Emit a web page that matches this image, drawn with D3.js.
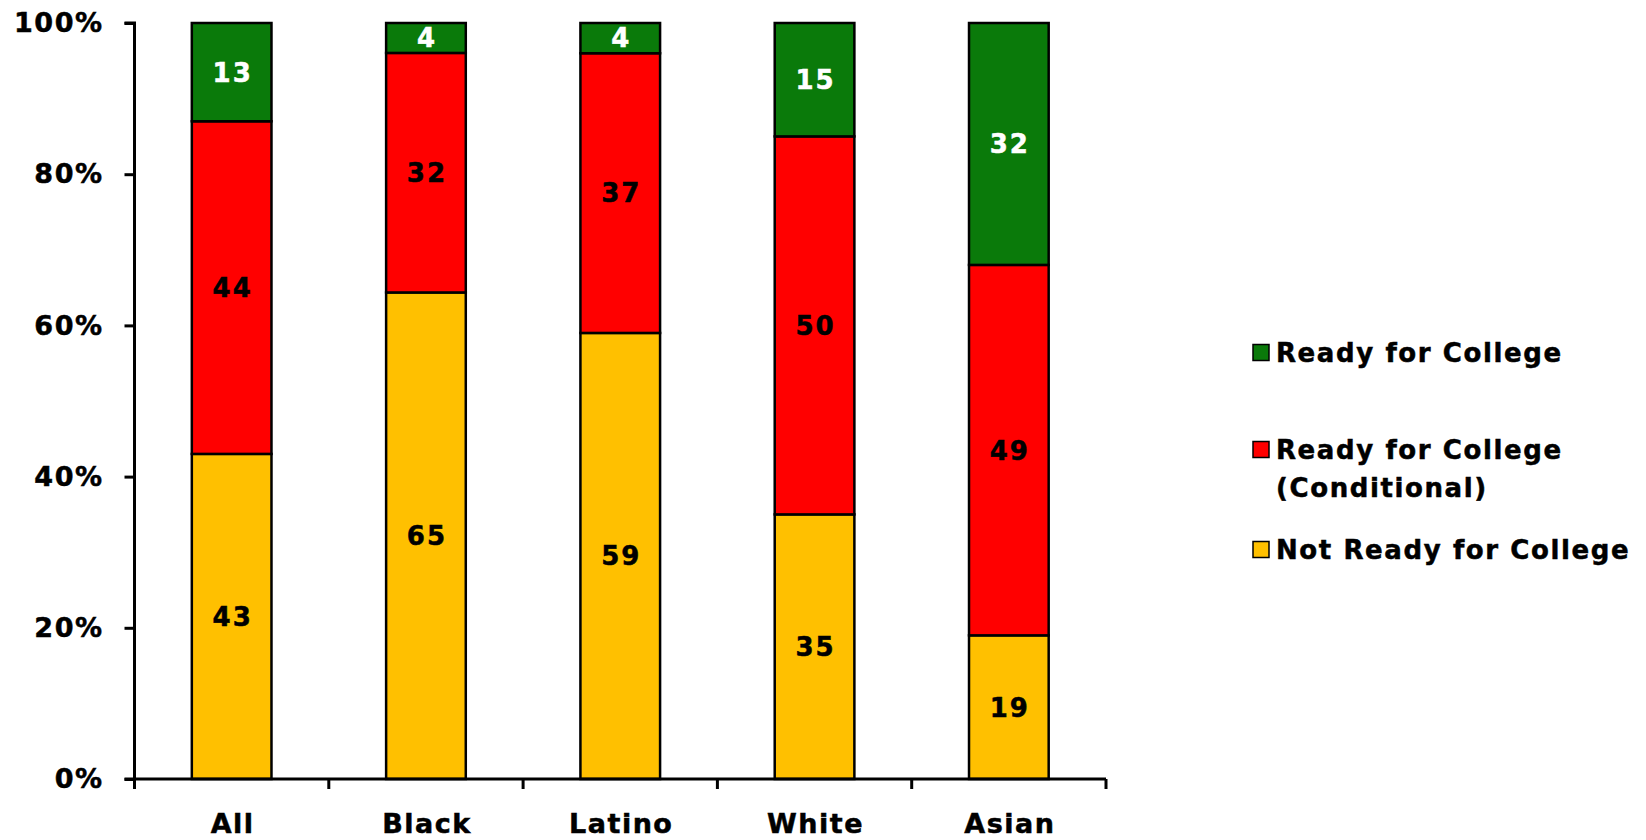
<!DOCTYPE html>
<html><head><meta charset="utf-8">
<script src="https://cdn.jsdelivr.net/npm/d3@7"></script>
<style>
body{margin:0;background:#fff;}
text{font-family:"DejaVu Sans",Verdana,sans-serif;font-weight:bold;}
</style></head>
<body><svg id="c" width="1646" height="840"></svg>
<script>
const categories = ["All","Black","Latino","White","Asian"];
const notReady = [43,65,59,35,19];
const conditional = [44,32,37,50,49];
const ready = [13,4,4,15,32];
const yTicks = [0,0.2,0.4,0.6,0.8,1.0];
const seriesNames = ["Not Ready for College","Ready for College (Conditional)","Ready for College"];
const seriesColors = ["#FFC000","#FF0000","#0A7A0A"];
const labelColors = ["#000","#000","#fff"];

const svg = d3.select("#c");
const x = d3.scaleBand().domain(categories).range([134.5,1106]).paddingInner(0.59).paddingOuter(0.295);
const xb = d3.scaleBand().domain(categories).range([134.5,1106]).padding(0);
const y = d3.scaleLinear().domain([0,1]).range([779,23]);

const rows = categories.map((c,i)=>({cat:c, s0:notReady[i], s1:conditional[i], s2:ready[i]}));
const stack = d3.stack().keys(["s0","s1","s2"]).offset(d3.stackOffsetExpand);
const layers = stack(rows);

layers.forEach((layer,li)=>{
  const g = svg.append("g");
  g.selectAll("rect").data(layer).enter().append("rect")
    .attr("x",d=>x(d.data.cat)).attr("width",x.bandwidth())
    .attr("y",d=>y(d[1])).attr("height",d=>y(d[0])-y(d[1]))
    .attr("fill",seriesColors[li]).attr("stroke","#000").attr("stroke-width",2.5);
  g.selectAll("text").data(layer).enter().append("text")
    .attr("x",d=>x(d.data.cat)+x.bandwidth()/2+1)
    .attr("y",d=>(y(d[0])+y(d[1]))/2)
    .attr("dy","0.36em").attr("text-anchor","middle")
    .attr("font-size",26).attr("letter-spacing",2)
    .attr("fill",labelColors[li]).attr("stroke",labelColors[li]).attr("stroke-width",0.5)
    .text(d=>d.data["s"+li]);
});

// y axis
const ya = svg.append("g").attr("transform","translate(134.5,0)")
  .call(d3.axisLeft(y).tickValues(yTicks).tickFormat(d3.format(".0%")).tickSize(10).tickPadding(21));
ya.select(".domain").attr("stroke-width",3).attr("d","M-10,23H0V779");
ya.selectAll(".tick line").attr("stroke-width",3);
ya.selectAll(".tick text").attr("font-size",27).attr("letter-spacing",1.5).attr("fill","#000")
  .attr("stroke","#000").attr("stroke-width",0.5)
  .style("font-family","'DejaVu Sans',Verdana,sans-serif").style("font-weight","bold");

// x axis
const xa = svg.append("g").attr("transform","translate(0,779)");
xa.append("line").attr("x1",134.5-10).attr("x2",1106).attr("y1",0).attr("y2",0).attr("stroke","#000").attr("stroke-width",3);
const bounds = categories.map(c=>xb(c)).concat([xb(categories[categories.length-1])+xb.bandwidth()]);
xa.selectAll("line.t").data(bounds).enter().append("line").attr("class","t")
  .attr("x1",d=>d).attr("x2",d=>d).attr("y1",0).attr("y2",10).attr("stroke","#000").attr("stroke-width",3);
xa.selectAll("text").data(categories).enter().append("text")
  .attr("x",d=>x(d)+x.bandwidth()/2+1).attr("y",54).attr("text-anchor","middle")
  .attr("font-size",27).attr("letter-spacing",1.5).attr("stroke","#000").attr("stroke-width",0.5).text(d=>d);

// legend
const legend = [
  {name:["Ready for College"], color:seriesColors[2], y:353},
  {name:["Ready for College","(Conditional)"], color:seriesColors[1], y:450},
  {name:["Not Ready for College"], color:seriesColors[0], y:550}
];
const lg = svg.append("g");
legend.forEach(l=>{
  lg.append("rect").attr("x",1253).attr("y",l.y-8.5).attr("width",16).attr("height",16)
    .attr("fill",l.color).attr("stroke","#000").attr("stroke-width",1.5);
  l.name.forEach((t,i)=>{
    lg.append("text").attr("x",1276).attr("y",l.y+i*38).attr("dy","0.36em")
      .attr("font-size",26).attr("letter-spacing",1.6).attr("stroke","#000").attr("stroke-width",0.5).text(t);
  });
});
</script></body></html>
